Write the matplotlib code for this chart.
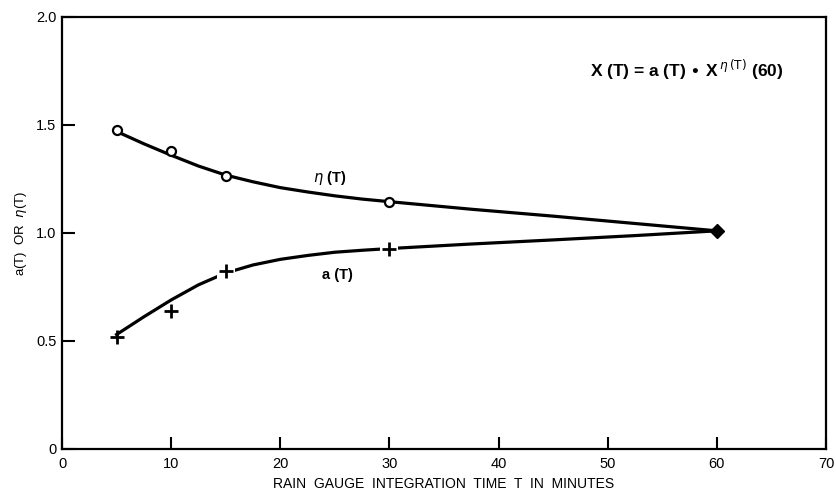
import numpy as np
import matplotlib
matplotlib.use("Agg")
import matplotlib.pyplot as plt

plt.rcParams['font.family'] = ['Liberation Sans', 'DejaVu Sans']
plt.rcParams['mathtext.fontset'] = 'dejavusans'

# measured points
t_pts = [5, 10, 15, 30]
eta_pts = [1.475, 1.38, 1.265, 1.145]
a_pts = [0.52, 0.64, 0.822, 0.928]
t_end = [60]
end_val = [1.01]

# fitted curves
t_curve = [5, 7.5, 10, 12.5, 15, 17.5, 20, 22.5, 25, 27.5, 30, 37.5, 45, 52.5, 60]
eta_curve = [1.47, 1.413, 1.36, 1.31, 1.268, 1.237, 1.21, 1.19, 1.172, 1.157, 1.145,
             1.11, 1.078, 1.044, 1.01]
a_curve = [0.53, 0.612, 0.69, 0.76, 0.815, 0.852, 0.878, 0.896, 0.911, 0.92, 0.928,
           0.949, 0.968, 0.988, 1.01]

# points where the a(T) line is broken around the marker
gap_t = [15, 30]
gap_a = [0.822, 0.928]

fig = plt.figure(figsize=(8.36, 4.94), dpi=100)
ax = fig.add_axes([0.0742, 0.0911, 0.9138, 0.8745])

ax.plot(t_curve, eta_curve, color='black', lw=2.3, zorder=2)
ax.plot(t_curve, a_curve, color='black', lw=2.3, zorder=2)

ax.plot(t_pts, eta_pts, 'o', ms=6.5, mfc='white', mec='black', mew=1.6, zorder=3)
ax.plot(gap_t, gap_a, 's', ms=13, mfc='white', mec='white', mew=0, zorder=3)
ax.plot(t_pts, a_pts, '+', ms=10, mec='black', mew=2, zorder=4)
ax.plot(t_end, end_val, 'D', ms=7.5, color='black', zorder=4)

ax.text(23, 1.215, r"$\eta$ (T)", fontsize=10.5, ha='left', va='bottom',
        fontweight='bold')
ax.text(25.2, 0.84, "a (T)", fontsize=10.5, ha='center', va='top',
        fontweight='bold')
ax.text(57.2, 1.755, r"X (T) = a (T) $\bullet$ X$^{\,\eta\,\mathrm{(T)}}$ (60)",
        fontsize=12.5, ha='center', va='center', fontweight='bold')

ax.set_xlim(0, 70)
ax.set_ylim(0, 2.0)
ax.set_xticks([0, 10, 20, 30, 40, 50, 60, 70])
ax.set_yticks([0, 0.5, 1.0, 1.5, 2.0])
ax.set_yticklabels(['0', '0.5', '1.0', '1.5', '2.0'])
ax.tick_params(direction='in', length=9, width=1.5, labelsize=10.5,
               top=False, right=False)
ax.tick_params(axis='x', pad=6)
ax.tick_params(axis='y', pad=4)
for s in ax.spines.values():
    s.set_linewidth(1.6)

ax.set_xlabel("RAIN  GAUGE  INTEGRATION  TIME  T  IN  MINUTES", fontsize=10,
              labelpad=4)
ax.set_ylabel(r"a(T)  OR  $\eta$(T)", fontsize=9.5, labelpad=5)

fig.savefig("out.png", dpi=100)
